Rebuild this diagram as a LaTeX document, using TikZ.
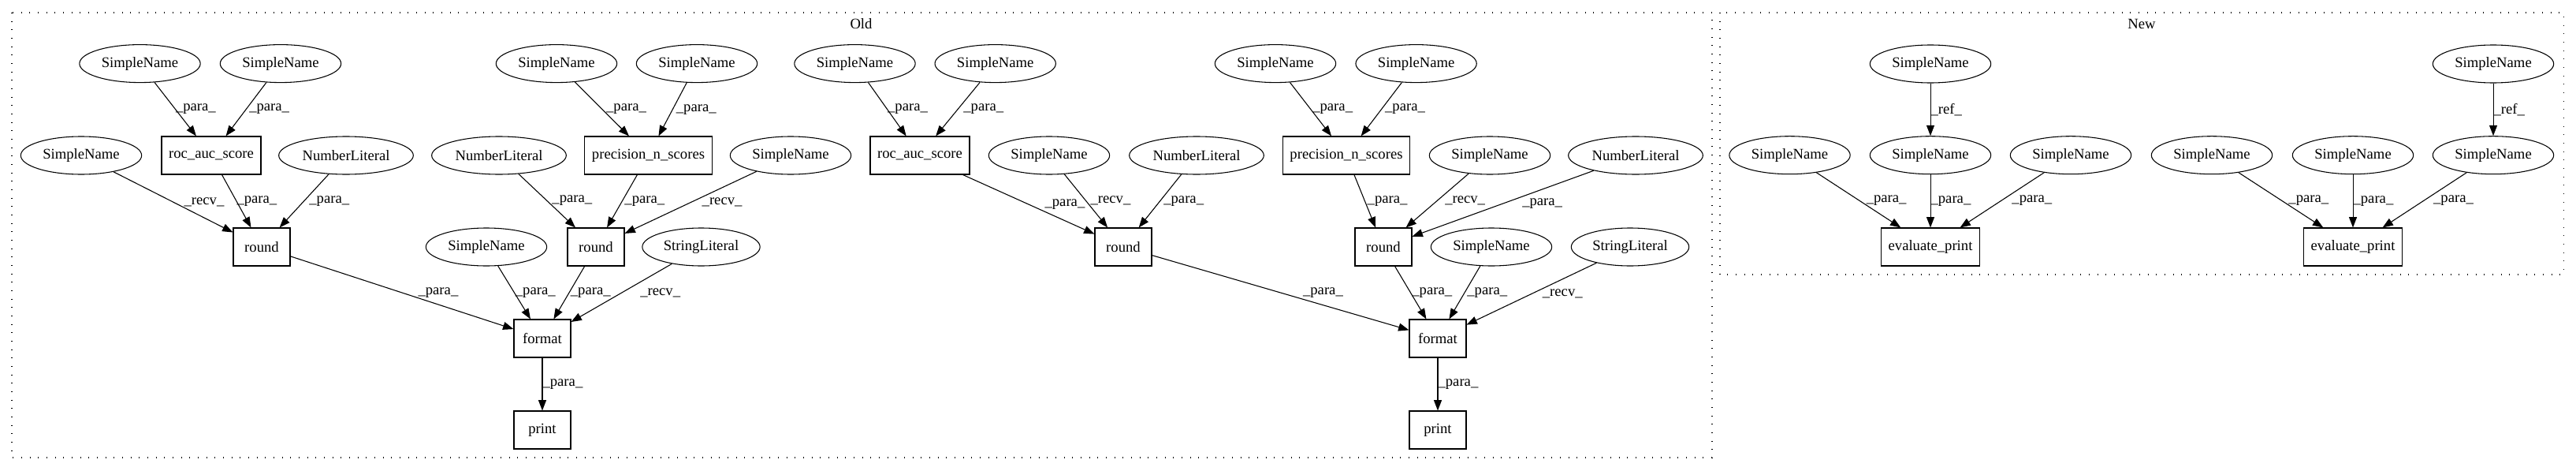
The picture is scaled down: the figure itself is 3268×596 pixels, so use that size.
\documentclass[tikz,border=0pt]{standalone}
\usepackage{fontspec}
\setmainfont{Liberation Serif}
\usetikzlibrary{shapes.geometric, arrows.meta}

\tikzset{
  sname/.style={draw, ellipse, line width=0.8pt, minimum width=115pt, minimum height=36pt, inner sep=1pt},
  numlit/.style={sname, minimum width=128pt},
  strlit/.style={sname, minimum width=112pt},
  call/.style={draw, rectangle, line width=0.8pt, minimum width=54pt, minimum height=36pt, inner sep=2pt},
  flow/.style={-{Triangle[length=10pt,width=7.5pt]}, line width=0.8pt},
  lbl/.style={right, inner sep=0pt},
  cluster/.style={line width=0.8pt, dash pattern=on 0.8pt off 7.2pt}
}

\begin{document}
\begin{tikzpicture}[x=0.75pt, y=-0.75pt, font=\fontsize{14pt}{16pt}\selectfont]
      \useasboundingbox (0,0) rectangle (3268,596);

      % Box for Old
      \draw[cluster] (15,16) rectangle (2172,580);
      \node (oldlbl) at (1092.5,30.4) {Old};

      % Box for New
      \draw[cluster] (2182,16) rectangle (3252,348);
      \node (newlbl) at (2717,30.7) {New};

      % Old, first print
      \node[sname] (s1) at (177.5,80.6) {SimpleName};
      \node[sname] (s2) at (356,80.6) {SimpleName};
      \node[sname] (s3) at (706,80.6) {SimpleName};
      \node[sname] (s4) at (884,80.6) {SimpleName};
      \node[sname] (s5) at (103,197) {SimpleName};
      \node[call, minimum width=94.5pt] (roc1) at (268,197) {roc\_auc\_score};
      \node[numlit] (n1) at (439,197) {NumberLiteral};
      \node[numlit] (n2) at (633,197) {NumberLiteral};
      \node[call, minimum width=121pt] (prec1) at (822.5,197) {precision\_n\_scores};
      \node[sname] (s6) at (1003,197) {SimpleName};
      \node[call] (round1) at (332,313) {round};
      \node[sname] (s7) at (617,313) {SimpleName};
      \node[call] (round2) at (756,313) {round};
      \node[strlit] (str1) at (889.5,313) {StringLiteral};
      \node[call] (format1) at (688,429) {format};
      \node[call] (print1) at (688,545) {print};

      \draw[flow] (s1) -- node[lbl] {\_para\_} (roc1);
      \draw[flow] (s2) -- node[lbl, xshift=2.6pt] {\_para\_} (roc1);
      \draw[flow] (s3) -- node[lbl, xshift=3.7pt] {\_para\_} (prec1);
      \draw[flow] (s4) -- node[lbl, xshift=3pt] {\_para\_} (prec1);
      \draw[flow] (s5) -- node[lbl, xshift=10pt] {\_recv\_} (round1);
      \draw[flow] (roc1) -- node[lbl] {\_para\_} (round1);
      \draw[flow] (n1) -- node[lbl, xshift=4.5pt] {\_para\_} (round1);
      \draw[flow] (n2) -- node[lbl, xshift=4.5pt] {\_para\_} (round2);
      \draw[flow] (prec1) -- node[lbl, xshift=2pt] {\_para\_} (round2);
      \draw[flow] (s6) -- node[lbl, xshift=10.5pt] {\_recv\_} (round2);
      \draw[flow] (round1) -- node[lbl, xshift=15pt] {\_para\_} (format1);
      \draw[flow] (s7) -- node[lbl, xshift=0.7pt] {\_para\_} (format1);
      \draw[flow] (round2) -- node[lbl, xshift=1pt] {\_para\_} (format1);
      \draw[flow] (str1) -- node[lbl, xshift=17.5pt] {\_recv\_} (format1);
      \draw[flow] (format1) -- node[lbl] {\_para\_} (print1);

      % Old, second print
      \node[sname] (s8) at (1084.5,80.6) {SimpleName};
      \node[sname] (s9) at (1262.7,80.6) {SimpleName};
      \node[sname] (s10) at (1618,80.6) {SimpleName};
      \node[sname] (s11) at (1796.6,80.6) {SimpleName};
      \node[call, minimum width=94.5pt] (roc2) at (1167,197) {roc\_auc\_score};
      \node[sname] (s12) at (1331,197) {SimpleName};
      \node[numlit] (n3) at (1518,197) {NumberLiteral};
      \node[call, minimum width=121pt] (prec2) at (1708,197) {precision\_n\_scores};
      \node[sname] (s13) at (1890,197) {SimpleName};
      \node[numlit] (n4) at (2075,197) {NumberLiteral};
      \node[call] (round3) at (1425,313) {round};
      \node[call] (round4) at (1755,313) {round};
      \node[sname] (s14) at (1892,313) {SimpleName};
      \node[strlit] (str2) at (2068,313) {StringLiteral};
      \node[call] (format2) at (1824,429) {format};
      \node[call] (print2) at (1824,545) {print};

      \draw[flow] (s8) -- node[lbl] {\_para\_} (roc2);
      \draw[flow] (s9) -- node[lbl, xshift=5pt] {\_para\_} (roc2);
      \draw[flow] (s10) -- node[lbl, xshift=1.5pt] {\_para\_} (prec2);
      \draw[flow] (s11) -- node[lbl, xshift=3pt] {\_para\_} (prec2);
      \draw[flow] (roc2) -- node[lbl, xshift=15pt] {\_para\_} (round3);
      \draw[flow] (s12) -- node[lbl, xshift=4pt] {\_recv\_} (round3);
      \draw[flow] (n3) -- node[lbl, xshift=3pt] {\_para\_} (round3);
      \draw[flow] (prec2) -- node[lbl, xshift=2pt] {\_para\_} (round4);
      \draw[flow] (s13) -- node[lbl, xshift=7pt] {\_recv\_} (round4);
      \draw[flow] (n4) -- node[lbl, xshift=18pt] {\_para\_} (round4);
      \draw[flow] (round3) -- node[lbl, xshift=21pt] {\_para\_} (format2);
      \draw[flow] (round4) -- node[lbl, xshift=1pt] {\_para\_} (format2);
      \draw[flow] (s14) -- node[lbl, xshift=2pt] {\_para\_} (format2);
      \draw[flow] (str2) -- node[lbl, xshift=10pt] {\_recv\_} (format2);
      \draw[flow] (format2) -- node[lbl] {\_para\_} (print2);

      % New
      \node[sname] (t1) at (2449,81) {SimpleName};
      \node[sname] (t2) at (3163,81) {SimpleName};
      \node[sname] (u1) at (2270.5,196.7) {SimpleName};
      \node[sname] (u2) at (2449,196.7) {SimpleName};
      \node[sname] (u3) at (2627,196.7) {SimpleName};
      \node[sname] (u4) at (2806,196.7) {SimpleName};
      \node[sname] (u5) at (2985,196.7) {SimpleName};
      \node[sname] (u6) at (3163,196.7) {SimpleName};
      \node[call, minimum width=94pt] (ep1) at (2449,313) {evaluate\_print};
      \node[call, minimum width=94pt] (ep2) at (2985,313) {evaluate\_print};

      \draw[flow] (t1) -- node[lbl] {\_ref\_} (u2);
      \draw[flow] (t2) -- node[lbl] {\_ref\_} (u6);
      \draw[flow] (u1) -- node[lbl, xshift=7pt] {\_para\_} (ep1);
      \draw[flow] (u2) -- node[lbl] {\_para\_} (ep1);
      \draw[flow] (u3) -- node[lbl, xshift=9pt] {\_para\_} (ep1);
      \draw[flow] (u4) -- node[lbl, xshift=7pt] {\_para\_} (ep2);
      \draw[flow] (u5) -- node[lbl] {\_para\_} (ep2);
      \draw[flow] (u6) -- node[lbl, xshift=8pt] {\_para\_} (ep2);
\end{tikzpicture}
\end{document}
